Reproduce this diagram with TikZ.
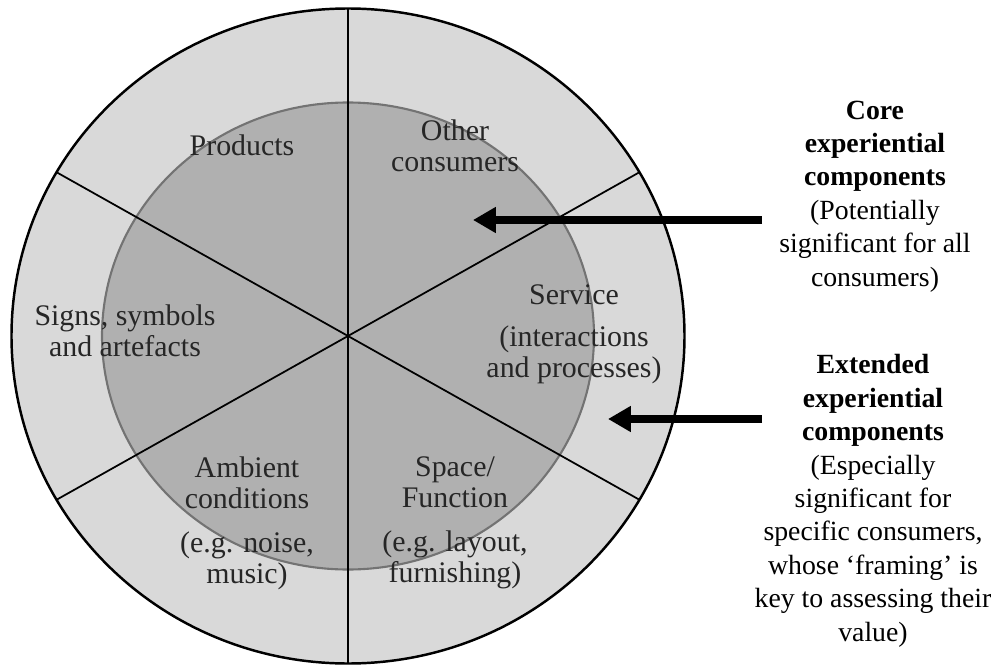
\documentclass[tikz,border=0pt]{standalone}
\usepackage{fontspec}
\setmainfont{Liberation Serif}
\usetikzlibrary{arrows.meta}
\definecolor{ringgray}{RGB}{217,217,217}
\definecolor{coregray}{RGB}{176,176,176}

\begin{document}
\begin{tikzpicture}[font=\fontsize{8.5}{8.9}\selectfont,
    seg/.style={align=center, inner sep=0pt, anchor=north, text=black!85},
    side/.style={align=center, inner sep=0pt, anchor=north, font=\fontsize{7.9}{9.5}\selectfont},
    pointer/.style={line width=2pt, -{Triangle[width=7pt, length=6.5pt]}}]
    \useasboundingbox (0, 0) rectangle (9.98, 6.66);
    % outer ring, core circle
    \filldraw[fill=ringgray, line width=0.7pt] (3.48, 3.30) ellipse (3.365 and 3.275);
    \filldraw[fill=coregray, draw=black!55, line width=0.6pt] (3.48, 3.30) ellipse (2.46 and 2.335);
    % six segments
    \foreach \a in {30, 90, 150}
        \draw[line width=0.5pt, shift={(3.48, 3.30)}] (\a:3.365 and 3.275) -- ({\a+180}:3.365 and 3.275);
    % segment labels
    \node[seg] (products) at (2.42, 5.32) {Products};
    \node[seg] (others) at (4.55, 5.47) {Other\\consumers};
    \node[seg] (service) at (5.74, 3.82) {Service\\[3pt](interactions\\and processes)};
    \node[seg] (signs) at (1.25, 3.62) {Signs, symbols\\and artefacts};
    \node[seg] (ambient) at (2.47, 2.10) {Ambient\\conditions\\[3.5pt](e.g. noise,\\music)};
    \node[seg] (space) at (4.55, 2.10) {Space/\\Function\\[3.5pt](e.g. layout,\\furnishing)};
    % legend on the right
    \node[side] (core) at (8.75, 5.66) {\textbf{Core}\\\textbf{experiential}\\\textbf{components}\\(Potentially\\significant for all\\consumers)};
    \node[side] (extended) at (8.73, 3.12) {\textbf{Extended}\\\textbf{experiential}\\\textbf{components}\\(Especially\\significant for\\specific consumers,\\whose ‘framing’ is\\key to assessing their\\value)};
    % arrows into the circle
    \coordinate (coreFrom) at (7.62, 4.46);
    \coordinate (coreTo) at (4.73, 4.46);
    \coordinate (extFrom) at (7.62, 2.47);
    \coordinate (extTo) at (6.08, 2.47);
    \draw[pointer] (coreFrom) -- (coreTo);
    \draw[pointer] (extFrom) -- (extTo);
\end{tikzpicture}
\end{document}
